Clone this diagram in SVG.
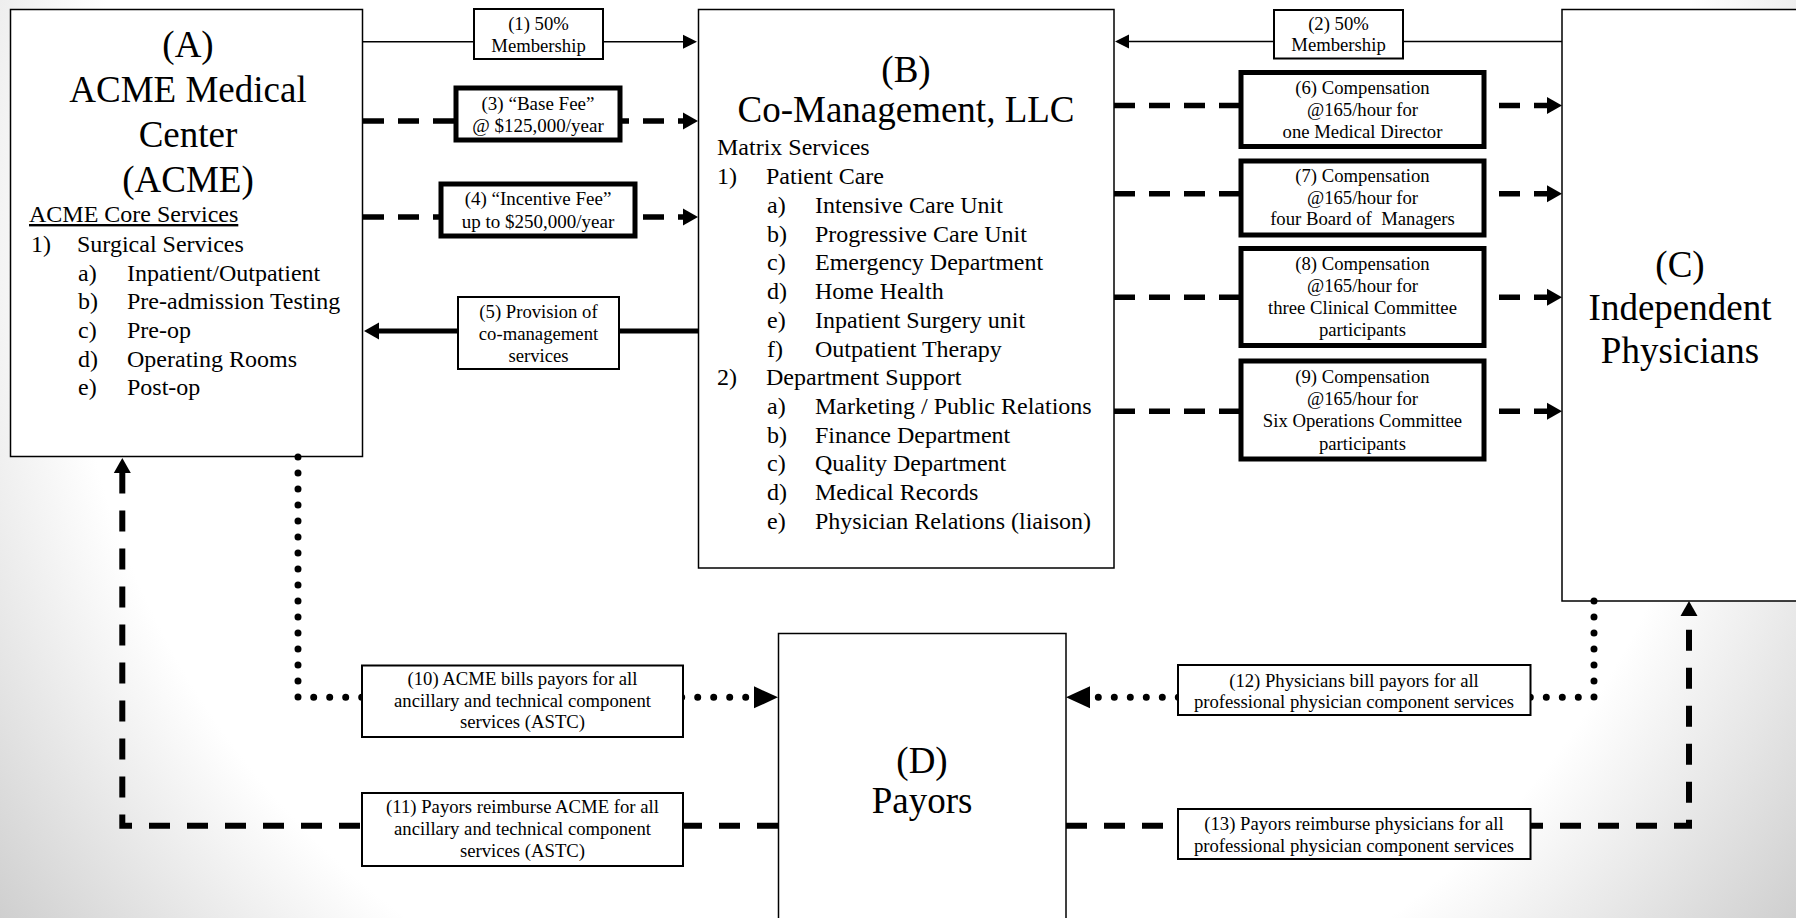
<svg xmlns="http://www.w3.org/2000/svg" width="1796" height="918" viewBox="0 0 1796 918">
<defs>
<radialGradient id="bg" gradientUnits="userSpaceOnUse" cx="898" cy="250" r="1120">
<stop offset="0" stop-color="#ffffff"/>
<stop offset="0.74" stop-color="#ffffff"/>
<stop offset="1" stop-color="#cfcfcf"/>
</radialGradient>
<marker id="ah" markerUnits="userSpaceOnUse" markerWidth="15" markerHeight="17" refX="0" refY="8.5" orient="auto" overflow="visible"><path d="M0,0 L15,8.5 L0,17 Z" fill="#000"/></marker>
<marker id="ahS" markerUnits="userSpaceOnUse" markerWidth="14" markerHeight="14" refX="0" refY="7" orient="auto" overflow="visible"><path d="M0,0 L14,7 L0,14 Z" fill="#000"/></marker>
<marker id="ahB" markerUnits="userSpaceOnUse" markerWidth="24" markerHeight="22" refX="0" refY="11" orient="auto" overflow="visible"><path d="M0,0 L24,11 L0,22 Z" fill="#000"/></marker>
<style>
.node{fill:#fff;stroke:#000;stroke-width:1.5}
.big{font-family:"Liberation Serif","Times New Roman",serif;font-size:37px;fill:#000;text-anchor:middle}
.lst{font-family:"Liberation Serif","Times New Roman",serif;font-size:24px;fill:#000}
.lbl{fill:#fff;stroke:#000;stroke-width:2}
.lblT{fill:#fff;stroke:#000;stroke-width:5}
.lt{font-family:"Liberation Serif","Times New Roman",serif;font-size:18.7px;fill:#000;text-anchor:middle;white-space:pre}
.thin{fill:none;stroke:#000;stroke-width:1.5}
.solid{fill:none;stroke:#000;stroke-width:5}
.dash{fill:none;stroke:#000;stroke-width:5.5;stroke-dasharray:21 14}
.dashB{fill:none;stroke:#000;stroke-width:6;stroke-dasharray:21 17}
.dot{fill:none;stroke:#000;stroke-width:7;stroke-dasharray:0 16;stroke-linecap:round}
</style>
</defs>
<rect x="0" y="0" width="1796" height="918" fill="url(#bg)"/>

<g id="node-A">
<rect class="node" x="10.5" y="9.5" width="352" height="447"/>
<text class="big" x="188" y="57">(A)</text>
<text class="big" x="188" y="102">ACME Medical</text>
<text class="big" x="188" y="147">Center</text>
<text class="big" x="188" y="192">(ACME)</text>
<text class="lst" x="29" y="222" text-decoration="underline">ACME Core Services</text>
<text class="lst" x="31" y="252">1)</text><text class="lst" x="77" y="252">Surgical Services</text>
<text class="lst" x="78" y="280.5">a)</text><text class="lst" x="127" y="280.5">Inpatient/Outpatient</text>
<text class="lst" x="78" y="309.2">b)</text><text class="lst" x="127" y="309.2">Pre-admission Testing</text>
<text class="lst" x="78" y="337.9">c)</text><text class="lst" x="127" y="337.9">Pre-op</text>
<text class="lst" x="78" y="366.6">d)</text><text class="lst" x="127" y="366.6">Operating Rooms</text>
<text class="lst" x="78" y="395.3">e)</text><text class="lst" x="127" y="395.3">Post-op</text>
</g>

<g id="node-B">
<rect class="node" x="698.5" y="9.5" width="415.5" height="558.5"/>
<text class="big" x="906" y="82">(B)</text>
<text class="big" x="906" y="122">Co-Management, LLC</text>
<text class="lst" x="717" y="155">Matrix Services</text>
<text class="lst" x="717" y="184.3">1)</text><text class="lst" x="766" y="184.3">Patient Care</text>
<text class="lst" x="767" y="213">a)</text><text class="lst" x="815" y="213">Intensive Care Unit</text>
<text class="lst" x="767" y="241.7">b)</text><text class="lst" x="815" y="241.7">Progressive Care Unit</text>
<text class="lst" x="767" y="270.4">c)</text><text class="lst" x="815" y="270.4">Emergency Department</text>
<text class="lst" x="767" y="299.1">d)</text><text class="lst" x="815" y="299.1">Home Health</text>
<text class="lst" x="767" y="327.8">e)</text><text class="lst" x="815" y="327.8">Inpatient Surgery unit</text>
<text class="lst" x="767" y="356.5">f)</text><text class="lst" x="815" y="356.5">Outpatient Therapy</text>
<text class="lst" x="717" y="385.2">2)</text><text class="lst" x="766" y="385.2">Department Support</text>
<text class="lst" x="767" y="413.9">a)</text><text class="lst" x="815" y="413.9">Marketing / Public Relations</text>
<text class="lst" x="767" y="442.6">b)</text><text class="lst" x="815" y="442.6">Finance Department</text>
<text class="lst" x="767" y="471.3">c)</text><text class="lst" x="815" y="471.3">Quality Department</text>
<text class="lst" x="767" y="500">d)</text><text class="lst" x="815" y="500">Medical Records</text>
<text class="lst" x="767" y="528.7">e)</text><text class="lst" x="815" y="528.7">Physician Relations (liaison)</text>
</g>

<g id="node-C">
<rect class="node" x="1562" y="9.5" width="245" height="591.5"/>
<text class="big" x="1680" y="277">(C)</text>
<text class="big" x="1680" y="320">Independent</text>
<text class="big" x="1680" y="363">Physicians</text>
</g>

<g id="node-D">
<rect class="node" x="778.5" y="633.5" width="287.5" height="300"/>
<text class="big" x="922" y="773">(D)</text>
<text class="big" x="922" y="813">Payors</text>
</g>

<g id="connectors">
<path class="thin" d="M363,41.7 L683,41.7" marker-end="url(#ahS)"/>
<path class="thin" d="M1562,41.5 L1129,41.5" marker-end="url(#ahS)"/>
<path class="dash" d="M363,121 L683,121" marker-end="url(#ah)"/>
<path class="dash" d="M363,217 L683,217" marker-end="url(#ah)"/>
<path class="solid" d="M698,331 L379,331" marker-end="url(#ah)"/>
<path class="dash" d="M1114,105.6 L1547,105.6" marker-end="url(#ah)"/>
<path class="dash" d="M1114,193.7 L1547,193.7" marker-end="url(#ah)"/>
<path class="dash" d="M1114,297.3 L1547,297.3" marker-end="url(#ah)"/>
<path class="dash" d="M1114,411.2 L1547,411.2" marker-end="url(#ah)"/>
<path class="dot" d="M298,457 L298,697.3 L754,697.3" marker-end="url(#ahB)"/>
<path class="dot" d="M1594,601 L1594,697.3 L1090,697.3" marker-end="url(#ahB)"/>
<path class="dashB" d="M778,825.7 L122.3,825.7 L122.3,473" marker-end="url(#ah)"/>
<path class="dashB" d="M1066,825.7 L1689,825.7 L1689,616" marker-end="url(#ah)"/>
</g>

<g id="edge-labels">
<g id="label-1"><rect class="lbl" x="474" y="9" width="129" height="50"/>
<text class="lt" x="538.5" y="30">(1) 50%</text><text class="lt" x="538.5" y="51.7">Membership</text></g>
<g id="label-2"><rect class="lbl" x="1274" y="10" width="129" height="48.5"/>
<text class="lt" x="1338.5" y="29.7">(2) 50%</text><text class="lt" x="1338.5" y="51.4">Membership</text></g>
<g id="label-3"><rect class="lblT" x="456" y="88" width="164" height="52"/>
<text class="lt" x="538" y="110" style="font-size:19px">(3) “Base Fee”</text><text class="lt" x="538" y="131.7" style="font-size:19px">@ $125,000/year</text></g>
<g id="label-4"><rect class="lblT" x="441" y="184" width="194" height="52"/>
<text class="lt" x="538" y="205" style="font-size:19px">(4) “Incentive Fee”</text><text class="lt" x="538" y="228" style="font-size:19px">up to $250,000/year</text></g>
<g id="label-5"><rect class="lbl" x="458" y="297" width="161" height="72"/>
<text class="lt" x="538.5" y="318.3">(5) Provision of</text><text class="lt" x="538.5" y="340">co-management</text><text class="lt" x="538.5" y="361.7">services</text></g>
<g id="label-6"><rect class="lblT" x="1241" y="72.5" width="243" height="74"/>
<text class="lt" x="1362.5" y="94">(6) Compensation</text><text class="lt" x="1362.5" y="115.9">@165/hour for</text><text class="lt" x="1362.5" y="137.6">one Medical Director</text></g>
<g id="label-7"><rect class="lblT" x="1241" y="161" width="243" height="74"/>
<text class="lt" x="1362.5" y="181.9">(7) Compensation</text><text class="lt" x="1362.5" y="203.6">@165/hour for</text><text class="lt" x="1362.5" y="225.4">four Board of  Managers</text></g>
<g id="label-8"><rect class="lblT" x="1241" y="248.5" width="243" height="97"/>
<text class="lt" x="1362.5" y="270">(8) Compensation</text><text class="lt" x="1362.5" y="291.8">@165/hour for</text><text class="lt" x="1362.5" y="313.6">three Clinical Committee</text><text class="lt" x="1362.5" y="336">participants</text></g>
<g id="label-9"><rect class="lblT" x="1241" y="361" width="243" height="98"/>
<text class="lt" x="1362.5" y="382.7">(9) Compensation</text><text class="lt" x="1362.5" y="405.3">@165/hour for</text><text class="lt" x="1362.5" y="427">Six Operations Committee</text><text class="lt" x="1362.5" y="450">participants</text></g>
<g id="label-10"><rect class="lbl" x="362" y="665.5" width="321" height="71.5"/>
<text class="lt" x="522.5" y="685">(10) ACME bills payors for all</text><text class="lt" x="522.5" y="706.7">ancillary and technical component</text><text class="lt" x="522.5" y="728.3">services (ASTC)</text></g>
<g id="label-11"><rect class="lbl" x="362" y="793" width="321" height="73"/>
<text class="lt" x="522.5" y="813">(11) Payors reimburse ACME for all</text><text class="lt" x="522.5" y="835">ancillary and technical component</text><text class="lt" x="522.5" y="856.7">services (ASTC)</text></g>
<g id="label-12"><rect class="lbl" x="1178" y="665" width="352.5" height="50"/>
<text class="lt" x="1354" y="686.5">(12) Physicians bill payors for all</text><text class="lt" x="1354" y="708">professional physician component services</text></g>
<g id="label-13"><rect class="lbl" x="1178" y="809" width="352.5" height="50"/>
<text class="lt" x="1354" y="830">(13) Payors reimburse physicians for all</text><text class="lt" x="1354" y="851.7">professional physician component services</text></g>
</g>
</svg>
